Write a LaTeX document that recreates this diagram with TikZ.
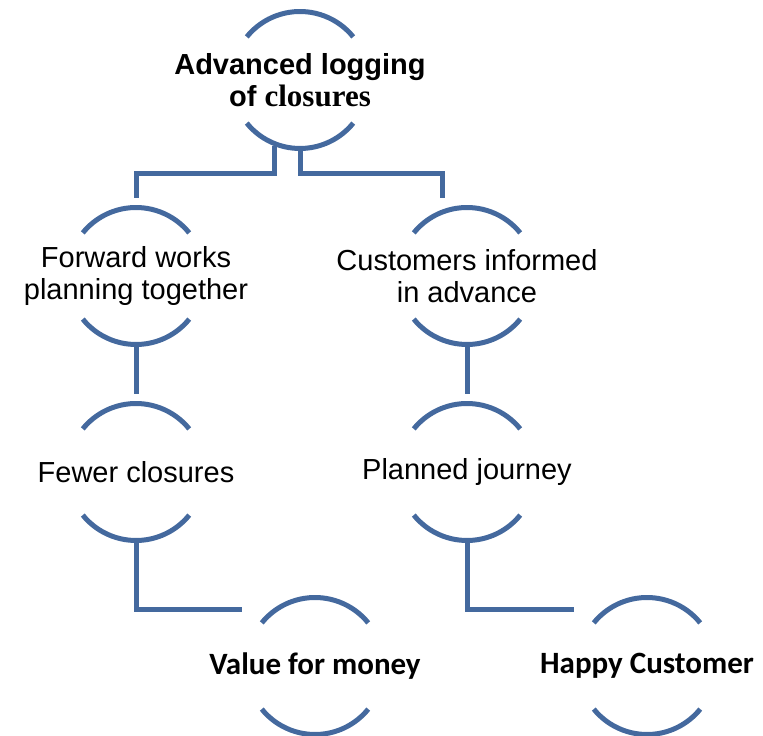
\documentclass[tikz,border=0pt]{standalone}
\usepackage{fontspec}
\setmainfont{Liberation Sans}
\newfontfamily\serifbold{Liberation Serif}
\newfontfamily\carlito{Carlito}
\usetikzlibrary{calc}
\definecolor{linkblue}{HTML}{44699E}
\tikzset{
  conn/.style={draw=linkblue, line width=5pt, line join=miter},
  bubble/.style={inner sep=0pt, outer sep=0pt, align=center, text=black},
  plain/.style={bubble, font=\fontsize{29}{32}\selectfont},
  titlefont/.style={bubble, font=\fontsize{29}{32}\selectfont\bfseries},
  endfont/.style={bubble, font=\carlito\fontsize{31}{34}\selectfont\bfseries},
}
\newcommand{\ringarcs}[1]{%
  \draw[conn] ([shift={(39:68.5pt)}]#1.center) arc[start angle=39, end angle=141, radius=68.5pt];
  \draw[conn] ([shift={(219:68.5pt)}]#1.center) arc[start angle=219, end angle=321, radius=68.5pt];
}
\begin{document}
\begin{tikzpicture}[x=1pt,y=1pt]
\useasboundingbox (0,0) rectangle (763,736);
\node[titlefont] (A) at (300,656) {Advanced logging\\of {\serifbold\fontsize{31}{32}\selectfont\bfseries closures}};
\node[plain] (B) at (136,460) {Forward works\\planning together};
\node[plain] (C) at (467,460) {Customers informed\\in advance};
\node[plain] (D) at (136,264) {Fewer closures};
\node[plain] (E) at (467,264) {Planned journey};
\node[endfont] (F) at (315,70) {Value for money};
\node[endfont] (G) at (647,70) {Happy Customer};
\ringarcs{A}\ringarcs{B}\ringarcs{C}\ringarcs{D}\ringarcs{E}\ringarcs{F}\ringarcs{G}
% connectors
\draw[conn] ($(A.center)+(-26,-66)$) |- ($(A.center)+(-26,-94)$) -| ($(B.center)+(0,78)$);
\draw[conn] ($(A.center)+(0,-68)$) |- ($(A.center)+(0,-94)$) -| ($(C.center)+(-25,78)$);
\draw[conn] ($(B.center)+(0,-68)$) -- ($(D.center)+(0,78)$);
\draw[conn] ($(C.center)+(0,-68)$) -- ($(E.center)+(0,78)$);
\draw[conn] ($(D.center)+(0,-68)$) |- ($(F.center)+(-73,56)$);
\draw[conn] ($(E.center)+(0,-68)$) |- ($(G.center)+(-73,56)$);
\end{tikzpicture}
\end{document}
